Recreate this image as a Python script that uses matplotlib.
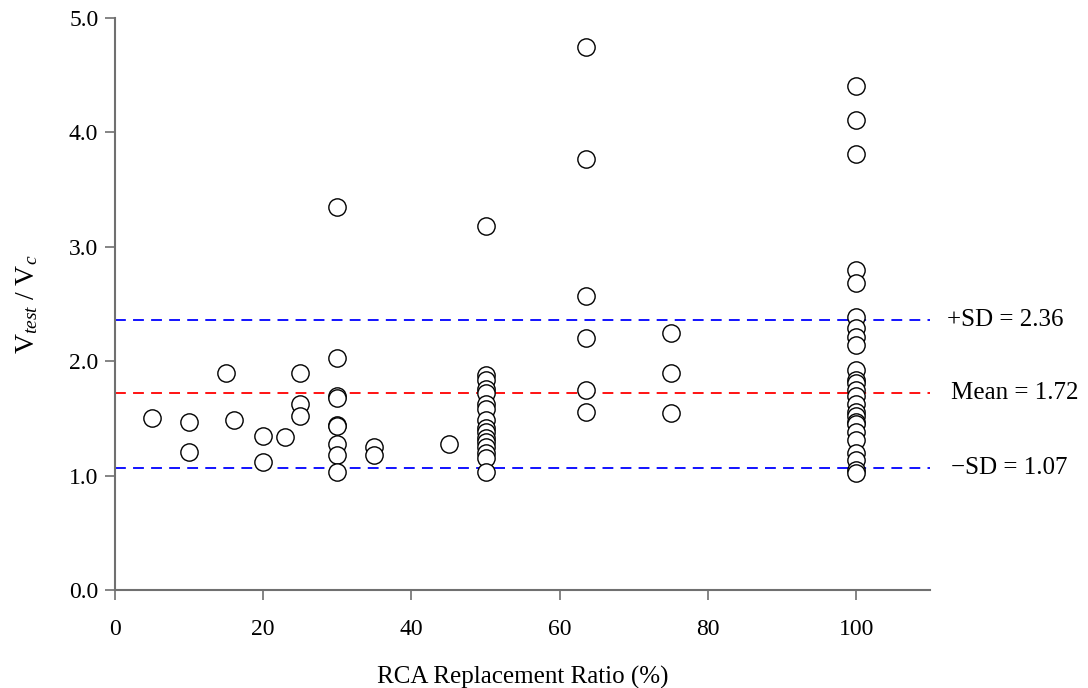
import numpy as np
import matplotlib.pyplot as plt

plt.rcParams['font.family'] = ['Liberation Serif', 'DejaVu Serif']
plt.rcParams['mathtext.fontset'] = 'custom'
plt.rcParams['mathtext.rm'] = 'Liberation Serif'
plt.rcParams['mathtext.it'] = 'Liberation Serif:italic'

# replacement ratio (%) and shear strength ratio
x_low = [5, 10, 10, 15, 16, 20, 20, 23, 25, 25, 25,
         30, 30, 30, 30, 30, 30, 30, 30, 30, 35, 35, 45]
y_low = [1.50, 1.47, 1.21, 1.90, 1.49, 1.35, 1.12, 1.34, 1.90, 1.63, 1.52,
         3.35, 2.03, 1.70, 1.68, 1.44, 1.43, 1.28, 1.18, 1.03, 1.25, 1.18, 1.28]

y_50 = [3.18, 1.88, 1.84, 1.76, 1.72, 1.63, 1.58, 1.49, 1.42, 1.38,
        1.33, 1.29, 1.25, 1.20, 1.15, 1.03]
y_635 = [4.75, 3.77, 2.57, 2.20, 1.75, 1.56]
y_75 = [2.25, 1.90, 1.55]
y_100 = [4.41, 4.11, 3.81, 2.80, 2.68, 2.39, 2.29, 2.21, 2.14, 1.92, 1.84,
         1.81, 1.75, 1.70, 1.63, 1.56, 1.52, 1.47, 1.45, 1.38, 1.31, 1.20,
         1.14, 1.05, 1.02]

mean_val = 1.72
sd_plus = 2.36
sd_minus = 1.07

x_all = (x_low + [50] * len(y_50) + [63.5] * len(y_635)
         + [75] * len(y_75) + [100] * len(y_100))
y_all = y_low + y_50 + y_635 + y_75 + y_100

fig = plt.figure(figsize=(10.88, 6.88), dpi=100)
ax = fig.add_axes([0.1057, 0.1424, 0.855 - 0.1057, 0.9738 - 0.1424])

dash = (0, (6, 4))
ax.axhline(sd_plus, color='#0000ff', ls=dash, lw=1.3, zorder=1)
ax.axhline(mean_val, color='#ff0000', ls=dash, lw=1.3, zorder=1)
ax.axhline(sd_minus, color='#0000ff', ls=dash, lw=1.3, zorder=1)

ax.scatter(x_all, y_all, s=155, facecolors='white', edgecolors='black',
           linewidths=1.0, zorder=2)

ax.set_xlim(0, 110)
ax.set_ylim(0, 5)
ax.set_xticks([0, 20, 40, 60, 80, 100])
ax.set_yticks(np.arange(0, 5.01, 1.0))
ax.set_yticklabels([f'{v:.1f}' for v in np.arange(0, 5.01, 1.0)])

for s in ['top', 'right']:
    ax.spines[s].set_visible(False)
for s in ['left', 'bottom']:
    ax.spines[s].set_color('#707070')
    ax.spines[s].set_linewidth(1.5)
ax.tick_params(axis='both', direction='out', length=7, width=1.2,
               color='#707070', labelsize=17, pad=5)
ax.tick_params(axis='x', pad=14)

ax.set_xlabel('RCA Replacement Ratio (%)', fontsize=18, va='center')
ax.xaxis.set_label_coords(0.5, -0.152)
ax.set_ylabel(r'$\mathrm{V}_{test}\ /\ \mathrm{V}_{c}$', fontsize=20, va='center')
ax.yaxis.set_label_coords(-0.108, 0.5)

ytr = ax.get_yaxis_transform()
ax.text(1.02, sd_plus, '+SD = 2.36', transform=ytr,
        fontsize=18, va='center', ha='left', clip_on=False)
ax.text(1.026, mean_val, 'Mean = 1.72', transform=ytr,
        fontsize=18, va='center', ha='left', clip_on=False)
ax.text(1.026, sd_minus, '\u2212SD = 1.07', transform=ytr,
        fontsize=18, va='center', ha='left', clip_on=False)

fig.savefig('out.png', dpi=100)
